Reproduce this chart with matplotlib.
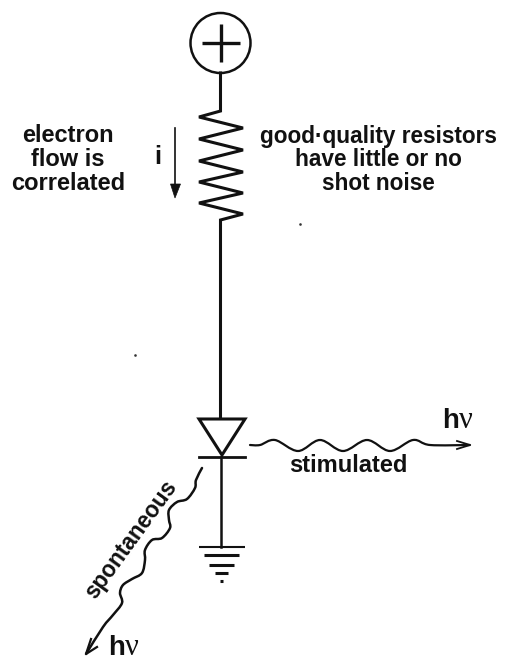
import matplotlib
matplotlib.use('Agg')
import matplotlib.pyplot as plt
from matplotlib.patches import Circle, PathPatch, Polygon
from matplotlib.path import Path

plt.rcParams['font.family'] = ['Liberation Sans', 'DejaVu Sans']

# schematic coordinates in pixels
resistor_x = [220.5, 220.5, 199, 243, 199, 243, 199, 243, 199, 243, 199, 243, 220.5, 220.5]
resistor_y = [73, 111, 117, 128, 139, 150, 161, 172, 182, 193, 203, 214, 220, 418]
stim_x = [250, 260, 275, 298, 320, 343, 367, 390, 413, 430, 470]
stim_y = [445, 445, 440, 451, 440, 451, 440, 451, 440, 445, 445]
spon_x = [202, 196, 195, 187, 177, 169, 169, 170, 162, 152, 145, 145, 142, 132, 123, 120, 122, 113, 103, 86]
spon_y = [468, 480, 488, 499, 502, 510, 520, 528, 538, 540, 550, 560, 573, 579, 585, 593, 603, 615, 627, 654]
ground_y = [547, 555, 564.5, 573, 581]
ground_half = [23, 17.5, 12.5, 6.5, 1.5]
ground_lw = [1.5, 2.2, 2.2, 2.2, 2.2]

left_text = ['electron', 'flow is', 'correlated']
left_y = [136, 160, 183]
right_text = ['good·quality resistors', 'have little or no', 'shot noise']
right_y = [136, 160, 183]


def smooth(ax, xs, ys, lw=1.6):
    # catmull-rom style bezier so the wave goes through every point
    n = len(xs)
    verts = [(xs[0], ys[0])]
    codes = [Path.MOVETO]
    for i in range(n - 1):
        a, b = max(i - 1, 0), min(i + 2, n - 1)
        verts.append((xs[i] + (xs[i + 1] - xs[a]) / 6, ys[i] + (ys[i + 1] - ys[a]) / 6))
        verts.append((xs[i + 1] - (xs[b] - xs[i]) / 6, ys[i + 1] - (ys[b] - ys[i]) / 6))
        verts.append((xs[i + 1], ys[i + 1]))
        codes += [Path.CURVE4] * 3
    ax.add_patch(PathPatch(Path(verts, codes), fill=False, ec='#111111', lw=lw, capstyle='round'))


fig = plt.figure(figsize=(5.12, 6.61), dpi=100)
ax = fig.add_axes([0, 0, 1, 1])
ax.set_xlim(0, 512)
ax.set_ylim(661, 0)
ax.axis('off')
k = '#111111'

# source
ax.add_patch(Circle((220.5, 43), 30, fill=False, ec=k, lw=1.8))
ax.plot([202, 240], [43, 43], color=k, lw=2.4, solid_capstyle='butt')
ax.plot([220.5, 220.5], [24, 62], color=k, lw=2.4, solid_capstyle='butt')

# wire and resistor
ax.plot(resistor_x, resistor_y, color=k, lw=2.2, solid_joinstyle='miter')

# current arrow
ax.plot([175, 175], [128, 186], color=k, lw=1.2)
ax.add_patch(Polygon([(170.5, 184), (180.5, 184), (175, 198)], fc=k, ec=k, lw=0.5))

# diode
ax.add_patch(Polygon([(199, 419), (245, 419), (222, 455)], fill=False, ec=k, lw=2.2, joinstyle='miter'))
ax.plot([199, 245], [457, 457], color=k, lw=2.0)
ax.plot([221, 221], [457, 547], color=k, lw=1.8)

# ground
for y, h, w in zip(ground_y, ground_half, ground_lw):
    ax.plot([221.5 - h, 221.5 + h], [y, y], color=k, lw=w, solid_capstyle='butt')

# photons
smooth(ax, stim_x, stim_y)
ax.plot([457, 470, 457], [441, 445, 449], color=k, lw=1.3, solid_joinstyle='miter')
smooth(ax, spon_x, spon_y, lw=1.8)
ax.plot([91, 86, 97], [639, 654, 647], color=k, lw=1.6, solid_joinstyle='miter')

# text
fs = 16.3
for s, y in zip(left_text, left_y):
    ax.text(68, y, s, ha='center', va='center', fontsize=17, fontweight='bold', color=k)
for s, y in zip(right_text, right_y):
    ax.text(378, y, s, ha='center', va='center', fontsize=fs, fontweight='bold', color=k)
ax.text(158, 157, 'i', ha='center', va='center', fontsize=fs + 2, fontweight='bold', color=k)
ax.text(348, 466, 'stimulated', ha='center', va='center', fontsize=17, fontweight='bold', color=k)
ax.text(131, 540, 'spontaneous', ha='center', va='center', rotation=54, rotation_mode='anchor',
        fontsize=fs, fontweight='bold', color=k)

# h is sans, the nu is a thin serif letter
ax.text(442, 428, 'h', ha='left', va='baseline', fontsize=20, fontweight='bold', color=k)
ax.text(459, 428, 'ν', ha='left', va='baseline', fontsize=22, color=k, family=['Liberation Serif', 'DejaVu Serif'])
ax.text(108, 655, 'h', ha='left', va='baseline', fontsize=20, fontweight='bold', color=k)
ax.text(125, 655, 'ν', ha='left', va='baseline', fontsize=22, color=k, family=['Liberation Serif', 'DejaVu Serif'])

# specks in the scan
ax.plot([300, 135], [224, 355], 's', color='#333333', ms=0.8)

fig.savefig('out.png', dpi=100)
